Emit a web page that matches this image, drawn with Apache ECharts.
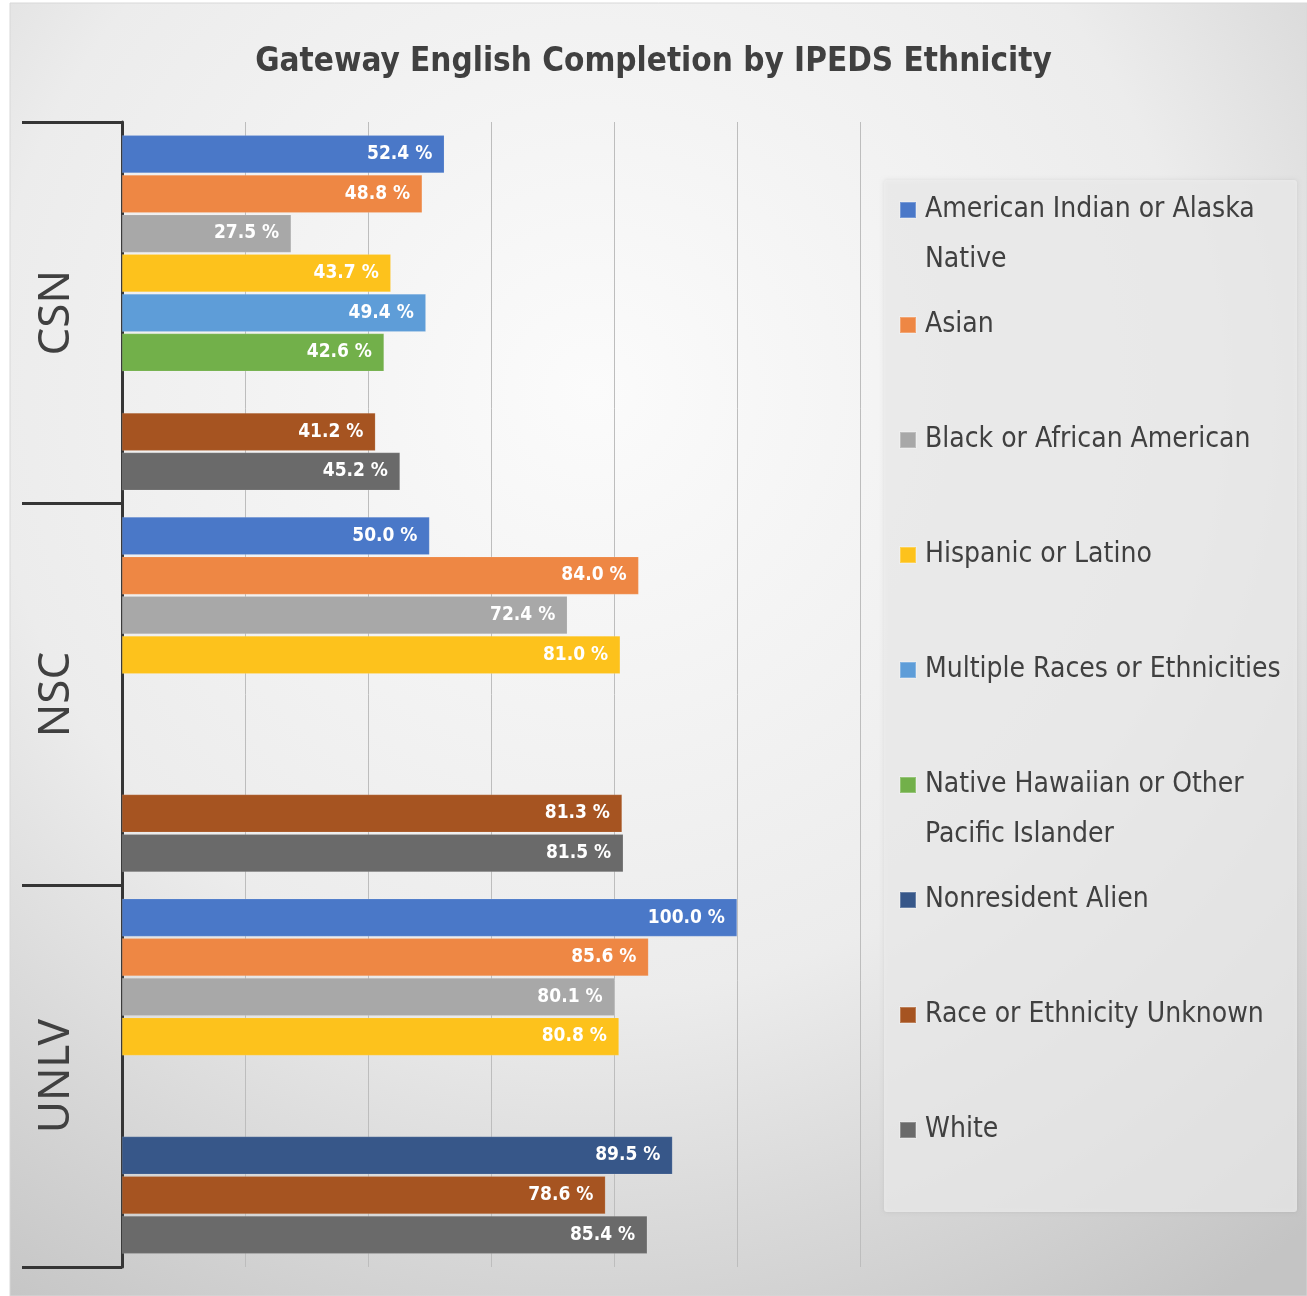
<!DOCTYPE html>
<html>
<head>
<meta charset="utf-8">
<script src="https://cdn.jsdelivr.net/npm/echarts@6/dist/echarts.min.js"></script>
<style>
html,body{margin:0;padding:0;background:#ffffff;}
#chart{width:1307px;height:1296px;}
</style>
</head>
<body>
<div id="chart"></div>
<script>
// ---- data ----
const categories = ['CSN', 'NSC', 'UNLV'];
const seriesNames = [
  'American Indian or Alaska Native',
  'Asian',
  'Black or African American',
  'Hispanic or Latino',
  'Multiple Races or Ethnicities',
  'Native Hawaiian or Other Pacific Islander',
  'Nonresident Alien',
  'Race or Ethnicity Unknown',
  'White'
];
const americanIndian = [52.4, 50.0, 100.0];
const asian = [48.8, 84.0, 85.6];
const black = [27.5, 72.4, 80.1];
const hispanic = [43.7, 81.0, 80.8];
const multipleRaces = [49.4, null, null];
const nativeHawaiian = [42.6, null, null];
const nonresident = [null, null, 89.5];
const unknownRace = [41.2, 81.3, 78.6];
const white = [45.2, 81.5, 85.4];
const seriesValues = [americanIndian, asian, black, hispanic, multipleRaces, nativeHawaiian, nonresident, unknownRace, white];
const legendLines = [
  ['American Indian or Alaska', 'Native'],
  ['Asian'],
  ['Black or African American'],
  ['Hispanic or Latino'],
  ['Multiple Races or Ethnicities'],
  ['Native Hawaiian or Other', 'Pacific Islander'],
  ['Nonresident Alien'],
  ['Race or Ethnicity Unknown'],
  ['White']
];

// ---- styles ----
const colors = ['#4a78c8', '#ee8744', '#a8a8a8', '#fdc21c', '#5e9dd8', '#72b04a', '#375789', '#a65421', '#6a6a6a'];
const narrow = '"Liberation Sans Narrow", "DejaVu Sans Condensed", "Arial Narrow", sans-serif';
const legendTops = [210, 325, 440, 555, 670, 785, 900, 1015, 1130];
const LH = 50;
const LEG_FS = 28;

const chart = echarts.init(document.getElementById('chart'));

const series = seriesNames.map((name, i) => ({
  name: name,
  type: 'bar',
  data: seriesValues[i],
  barCategoryGap: '7%',
  barGap: '5%',
  itemStyle: { color: colors[i], borderColor: 'rgba(255,255,255,0.25)', borderWidth: 0.5 },
  label: {
    show: true,
    position: 'insideRight',
    distance: 12,
    color: '#ffffff',
    fontFamily: narrow,
    fontWeight: 'bold',
    fontSize: 19,
    formatter: p => (p.value == null ? '' : Number(p.value).toFixed(1) + ' %')
  }
}));

const legends = seriesNames.map((name, i) => {
  const lines = legendLines[i];
  const n = lines.length;
  return {
    orient: 'vertical',
    left: 899,
    top: legendTops[i] - LH / 2 - (n - 1) * LH,
    padding: 0,
    icon: 'rect',
    itemWidth: 16,
    itemHeight: 16,
    selectedMode: false,
    data: [name],
    formatter: () => lines.map(l => '{t|' + l + '}').join('\n'),
    textStyle: {
      color: '#404040',
      fontFamily: narrow,
      fontSize: LEG_FS,
      lineHeight: LH,
      padding: [(n - 1) * LH, 0, 0, 4],
      rich: {
        t: { color: '#404040', fontFamily: narrow, fontSize: LEG_FS, lineHeight: LH }
      }
    }
  };
});

chart.setOption({
  backgroundColor: '#ffffff',
  animation: false,
  title: {
    text: 'Gateway English Completion by IPEDS Ethnicity',
    left: 'center',
    top: 41,
    textStyle: { color: '#404040', fontFamily: narrow, fontWeight: 'bold', fontSize: 33 }
  },
  graphic: [
    {
      type: 'rect', z: -20, silent: true,
      shape: { x: 10, y: 3, width: 1297, height: 1293 },
      style: {
        fill: new echarts.graphic.RadialGradient(0.45, 0.3, 0.85, [
          { offset: 0, color: '#fbfbfb' },
          { offset: 0.55, color: '#ececec' },
          { offset: 1, color: '#c4c4c4' }
        ]),
        stroke: '#d8d8d8', lineWidth: 1
      }
    },
    {
      type: 'rect', z: -19, silent: true,
      shape: { x: 884, y: 180, width: 413, height: 1032, r: 3 },
      style: { fill: 'rgba(238,238,238,0.75)', shadowBlur: 4, shadowColor: 'rgba(0,0,0,0.12)' }
    }
  ],
  legend: legends,
  grid: { left: 122, right: 447, top: 122, bottom: 29, containLabel: false },
  xAxis: {
    type: 'value',
    min: 0,
    max: 120,
    interval: 20,
    axisLabel: { show: false },
    axisLine: { show: false },
    axisTick: { show: false },
    splitLine: { show: true, lineStyle: { color: '#bdbdbd', width: 1 } }
  },
  yAxis: {
    type: 'category',
    data: categories,
    inverse: true,
    axisLine: { show: true, lineStyle: { color: '#353535', width: 3 } },
    axisTick: { show: true, length: 100, lineStyle: { color: '#353535', width: 3 } },
    axisLabel: {
      rotate: 90,
      margin: 44,
      color: '#404040',
      fontFamily: '"Noto Sans", sans-serif',
      fontSize: 44
    }
  },
  series: series
});
</script>
</body>
</html>
